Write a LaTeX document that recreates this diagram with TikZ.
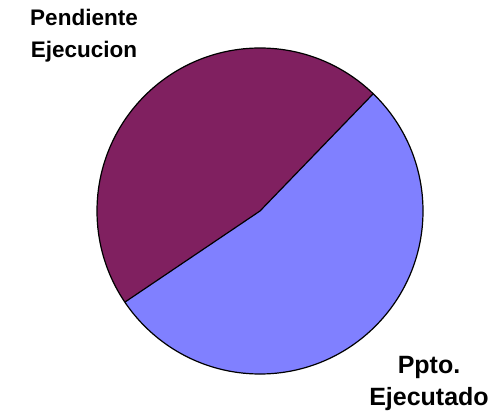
\documentclass[tikz,border=0pt]{standalone}
\usepackage{fontspec}
\setmainfont{Liberation Sans}
\usepackage{tikz}
\usetikzlibrary{positioning, calc}
\definecolor{slicepurple}{RGB}{128,32,96}
\definecolor{sliceblue}{RGB}{128,128,255}

\begin{document}
\begin{tikzpicture}[x=1pt, y=1pt,
    slice/.style={draw=black, line width=1.2pt, line join=round},
    pielabel/.style={align=center,
      inner sep=0pt,
      anchor=base,
      font=\bfseries\fontsize{#1}{32}\selectfont}]
  \useasboundingbox (0,0) rectangle (503,418);

  % SLICES

  \coordinate (centre) at (260,207);

  \fill[sliceblue] (centre) -- ++(214:163) arc[start angle=214, end angle=406, radius=163] -- cycle;
  \fill[slicepurple] (centre) -- ++(46:163) arc[start angle=46, end angle=214, radius=163] -- cycle;
  \draw[slice] (centre) circle[radius=163];
  \draw[slice] ($(centre)+(46:163)$) -- (centre) -- ($(centre)+(214:163)$);

  % LABELS

  \node[pielabel=22.5] (pendiente) at (84,360) {Pendiente\\Ejecucion};
  \node[pielabel=25] (ejecutado) at (429,13) {Ppto.\\Ejecutado};

\end{tikzpicture}
\end{document}
